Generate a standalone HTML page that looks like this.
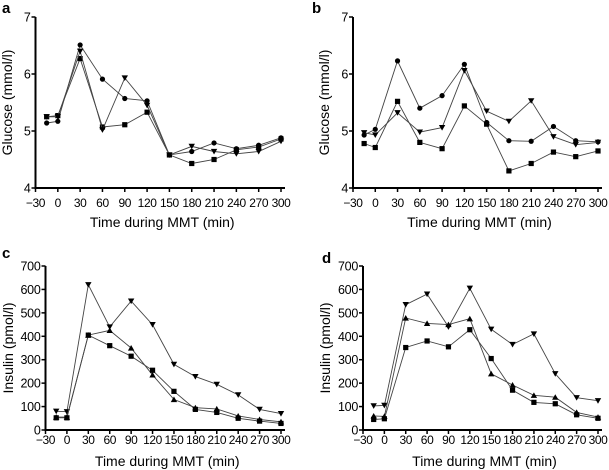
<!DOCTYPE html>
<html><head><meta charset="utf-8"><style>
html,body{margin:0;padding:0;background:#fff}
svg{display:block;font-family:"Liberation Sans",Arial,sans-serif}
</style></head><body>
<svg id="chart" width="609" height="470" viewBox="0 0 609 470"></svg>
<script>
const times=[-15,0,30,60,90,120,150,180,210,240,270,300];
const xTicks=[-30,0,30,60,90,120,150,180,210,240,270,300];
const gluTicks=[4,5,6,7];
const insTicks=[0,100,200,300,400,500,600,700];
const aCircle=[5.14,5.17,6.51,5.91,5.57,5.53,4.58,4.64,4.79,4.69,4.75,4.88];
const aSquare=[5.25,5.27,6.27,5.07,5.11,5.33,4.58,4.43,4.50,4.67,4.72,4.86];
const aTriDown=[5.25,5.25,6.40,5.02,5.93,5.45,4.58,4.73,4.64,4.60,4.64,4.82];
const bCircle=[4.93,5.03,6.23,5.40,5.62,6.17,5.15,4.83,4.82,5.08,4.83,4.81];
const bSquare=[4.78,4.71,5.52,4.80,4.69,5.44,5.12,4.30,4.43,4.63,4.55,4.65];
const bTriDown=[4.97,4.93,5.32,4.98,5.06,6.06,5.35,5.17,5.53,4.90,4.76,4.80];
const cTriDown=[80,78,620,440,550,450,280,228,195,150,88,70];
const cTriUp=[55,55,405,425,350,235,130,95,90,60,45,35];
const cSquare=[52,52,405,360,315,255,165,88,75,50,38,28];
const dTriDown=[103,105,535,580,440,605,430,365,410,240,138,125];
const dTriUp=[60,58,478,455,450,475,240,192,148,140,75,55];
const dSquare=[45,48,352,380,355,428,305,170,118,112,65,50];

const NS="http://www.w3.org/2000/svg";
const svg=document.getElementById('chart');
function mk(tag,attrs,parent){const e=document.createElementNS(NS,tag);for(const k in attrs)e.setAttribute(k,attrs[k]);(parent||svg).appendChild(e);return e;}

function panel(p){
  const g=mk('g',{});
  
  
  const sx=t=>p.x0+(t+30)/330*(p.x1-p.x0);
  const sy=v=>p.y1-(v-p.vmin)/(p.vmax-p.vmin)*(p.y1-p.y0);
  const lt=mk('text',{x:p.lx,y:p.ly,'font-size':15,'font-weight':'bold'},g);lt.textContent=p.letter;
  
  
  p.series.forEach(s=>{
    const pts=times.map((t,i)=>sx(t).toFixed(1)+','+sy(s.v[i]).toFixed(1)).join(' ');
    const pl=mk('polyline',{points:pts,fill:'none',stroke:'#444','stroke-width':0.9},g);
    
    
    times.forEach((t,i)=>{
      const x=sx(t),y=sy(s.v[i]);let e;
      if(s.m==='circle')e=mk('circle',{cx:x,cy:y,r:2.6,fill:'#000'},g);
      else if(s.m==='square')e=mk('rect',{x:x-2.6,y:y-2.6,width:5.2,height:5.2,fill:'#000'},g);
      else if(s.m==='tridown')e=mk('polygon',{points:`${x-3.2},${y-2.6} ${x+3.2},${y-2.6} ${x},${y+3}`,fill:'#000'},g);
      else e=mk('polygon',{points:`${x-3.2},${y+2.6} ${x+3.2},${y+2.6} ${x},${y-3}`,fill:'#000'},g);
      
      
    });
  });
  const ya=mk('line',{x1:p.x0,y1:p.y0,x2:p.x0,y2:p.y1+1,stroke:'#000','stroke-width':2},g);
  
  
  const xa=mk('line',{x1:p.x0-1,y1:p.y1,x2:p.x1+4,y2:p.y1,stroke:'#000','stroke-width':2},g);
  
  
  p.yt.forEach(v=>{
    const y=sy(v);
    mk('line',{x1:p.x0-4,y1:y,x2:p.x0,y2:y,stroke:'#000','stroke-width':1.5},g);
    const t=mk('text',{x:p.x0-5,y:y+4.5,'font-size':12.5,'text-anchor':'end','letter-spacing':-0.3},g);t.textContent=v;
    
    
  });
  xTicks.forEach(v=>{
    const x=sx(v);
    mk('line',{x1:x,y1:p.y1,x2:x,y2:p.y1+4,stroke:'#000','stroke-width':1.5},g);
    const t=mk('text',{x:x,y:p.y1+p.tkOff,'font-size':12,'text-anchor':'middle','letter-spacing':-0.4},g);t.textContent=v<0?'\u2212'+(-v):v;
    
    
  });
  const xt=mk('text',{x:(p.x0+p.x1)/2+4,y:p.y1+p.ttOff,'font-size':14,'text-anchor':'middle'},g);xt.textContent='Time during MMT (min)';
  
  
  const cy=(p.y0+p.y1)/2;
  const ytl=mk('text',{x:p.ytx,y:cy,'font-size':14,'text-anchor':'middle',transform:`rotate(-90 ${p.ytx} ${cy})`},g);ytl.textContent=p.ytitle;
  
  
}
panel({letter:'a',lx:2,ly:13,x0:35.5,x1:281,y0:17,y1:188,vmin:4,vmax:7,yt:gluTicks,ytx:12,ytitle:'Glucose (mmol/l)',tkOff:19,ttOff:39,
  series:[{m:'circle',v:aCircle},{m:'square',v:aSquare},{m:'tridown',v:aTriDown}]});
panel({letter:'b',lx:312,ly:13,x0:353,x1:598,y0:17,y1:188,vmin:4,vmax:7,yt:gluTicks,ytx:329,ytitle:'Glucose (mmol/l)',tkOff:19,ttOff:39,
  series:[{m:'circle',v:bCircle},{m:'square',v:bSquare},{m:'tridown',v:bTriDown}]});
panel({letter:'c',lx:2,ly:258,x0:45.5,x1:281,y0:266,y1:430,vmin:0,vmax:700,yt:insTicks,ytx:13,ytitle:'Insulin (pmol/l)',tkOff:14,ttOff:36,
  series:[{m:'tridown',v:cTriDown},{m:'triup',v:cTriUp},{m:'square',v:cSquare}]});
panel({letter:'d',lx:322,ly:263,x0:363,x1:598,y0:266,y1:430,vmin:0,vmax:700,yt:insTicks,ytx:330,ytitle:'Insulin (pmol/l)',tkOff:14,ttOff:36,
  series:[{m:'tridown',v:dTriDown},{m:'triup',v:dTriUp},{m:'square',v:dSquare}]});
</script>
</body></html>
